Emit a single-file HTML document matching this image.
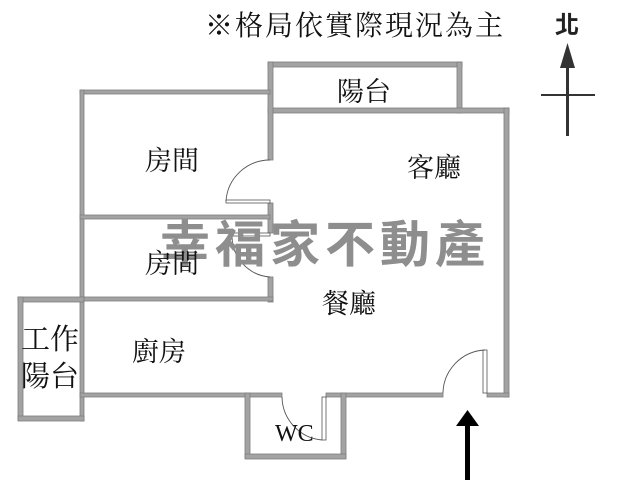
<!DOCTYPE html>
<html><head><meta charset="utf-8"><style>
html,body{margin:0;padding:0;background:#fff;width:640px;height:480px;overflow:hidden}
svg{display:block}
text{font-family:"Liberation Serif","Noto Serif CJK SC","Noto Sans CJK TC",serif;fill:#111}
</style></head><body>
<svg width="640" height="480" viewBox="0 0 640 480" xmlns="http://www.w3.org/2000/svg">
<g fill="#a3a3a3" stroke="#7d7d7d" stroke-width="0.8">
<rect x="268" y="62" width="194" height="5"/>
<rect x="457" y="62" width="5" height="51"/>
<rect x="268" y="108" width="241" height="5"/>
<rect x="504" y="108" width="5" height="289"/>
<rect x="268" y="62" width="5" height="98"/>
<rect x="268" y="203" width="5" height="30"/>
<rect x="268" y="277" width="5" height="25"/>
<rect x="80" y="90" width="190" height="4"/>
<rect x="80" y="90" width="4" height="331"/>
<rect x="80" y="215" width="190" height="4"/>
<rect x="80" y="297" width="193" height="4"/>
<rect x="18" y="297" width="66" height="5"/>
<rect x="18" y="297" width="5" height="123"/>
<rect x="18" y="416" width="66" height="5"/>
<rect x="80" y="393" width="202" height="4"/>
<rect x="326" y="393" width="117" height="4"/>
<rect x="487" y="393" width="22" height="4"/>
<rect x="245" y="393" width="5" height="65"/>
<rect x="341" y="393" width="5" height="65"/>
<rect x="245" y="454" width="101" height="5"/>
</g>
<g fill="#fff" stroke="#555" stroke-width="0.8">
<rect x="226" y="200" width="44" height="3"/>
<rect x="232" y="233" width="38" height="3"/>
<rect x="483" y="350" width="4" height="43"/>
<rect x="322" y="397" width="4" height="43"/>
</g>
<g fill="none" stroke="#555" stroke-width="0.9">
<path d="M226 201 A44 44 0 0 1 270 160"/>
<path d="M232 236 A41 41 0 0 0 270 277"/>
<path d="M443 393 A44 44 0 0 1 485 350"/>
<path d="M282 397 A44 44 0 0 0 322 440"/>
</g>
<text x="160" y="262" font-size="50" font-weight="bold" textLength="325" style="fill:#8e8e8e;font-family:'Noto Sans CJK TC','Noto Sans CJK SC',sans-serif">幸福家不動產</text>
<text x="205" y="35" font-size="28" textLength="298">※格局依實際現況為主</text>
<text x="337" y="101" font-size="27">陽台</text>
<text x="145" y="170" font-size="27">房間</text>
<text x="145" y="273" font-size="27">房間</text>
<text x="407" y="177" font-size="27">客廳</text>
<text x="322" y="313" font-size="27">餐廳</text>
<text x="132" y="361" font-size="27">廚房</text>
<text x="21" y="349" font-size="29">工作</text>
<text x="21" y="386" font-size="29">陽台</text>
<text x="275" y="441" font-size="24" style="font-family:'Liberation Serif',serif">WC</text>
<rect x="465" y="423" width="5" height="57" fill="#000"/>
<polygon points="467.5,410 456,426 479,426" fill="#000"/>
<text x="555" y="33" font-size="24" font-weight="bold" style="fill:#222;font-family:'Noto Sans CJK TC',sans-serif">北</text>
<rect x="566" y="62" width="3" height="74" fill="#333"/>
<polygon points="567.5,43 560,68 575,68" fill="#333"/>
<rect x="541" y="94" width="54" height="2" fill="#333"/>
</svg>
</body></html>
